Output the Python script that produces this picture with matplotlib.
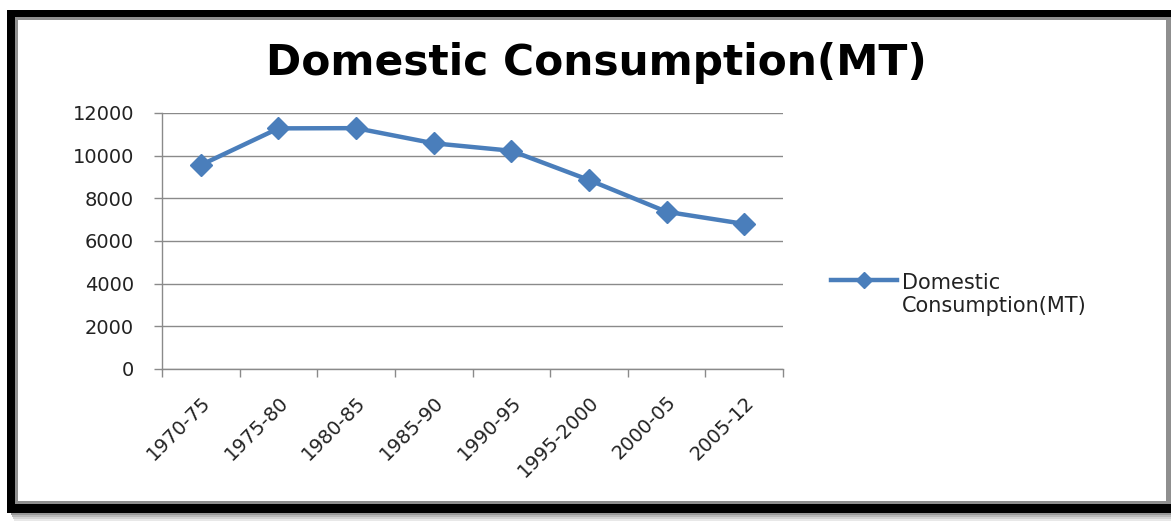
import matplotlib
matplotlib.use("Agg")
import matplotlib.pyplot as plt
from matplotlib.patches import Rectangle
import numpy as np

periods = ["1970-75", "1975-80", "1980-85", "1985-90", "1990-95",
           "1995-2000", "2000-05", "2005-12"]
consumption = [9560, 11280, 11290, 10580, 10230, 8860, 7370, 6800]
y_ticks = [0, 2000, 4000, 6000, 8000, 10000, 12000]
series_name = "Domestic\nConsumption(MT)"

W, H = 1171, 522
plt.rcParams["font.family"] = ["DejaVu Sans"]
fig = plt.figure(figsize=(W / 100, H / 100), dpi=100)
fig.patch.set_facecolor("white")


def box(x0, y0, x1, y1):
    """Pixel box (top-left origin) -> figure-fraction rectangle args."""
    return (x0 / W, 1 - y1 / H), (x1 - x0) / W, (y1 - y0) / H


# soft drop shadow under the frame
for i, (c, a) in enumerate([(0.55, 0.9), (0.65, 0.8), (0.75, 0.7), (0.85, 0.6)]):
    xy, w, h = box(11 + i, 513 + i * 2, W + 10, 515 + i * 2)
    fig.patches.append(Rectangle(xy, w, h, transform=fig.transFigure,
                                 facecolor=str(c), edgecolor="none", alpha=a, zorder=0))
# thick black frame
xy, w, h = box(7, 10, W + 10, 513)
fig.patches.append(Rectangle(xy, w, h, transform=fig.transFigure,
                             facecolor="black", edgecolor="none", zorder=1))
# grey inner rim and white chart area
xy, w, h = box(15, 17, W + 10, 504)
fig.patches.append(Rectangle(xy, w, h, transform=fig.transFigure,
                             facecolor="#8f8f8f", edgecolor="none", zorder=2))
xy, w, h = box(18, 20, 1166, 501)
fig.patches.append(Rectangle(xy, w, h, transform=fig.transFigure,
                             facecolor="white", edgecolor="none", zorder=3))

ax_left, ax_right, ax_top, ax_bottom = 162, 783, 113, 369
ax = fig.add_axes([ax_left / W, 1 - ax_bottom / H,
                   (ax_right - ax_left) / W, (ax_bottom - ax_top) / H])
ax.set_facecolor("none")
ax.set_zorder(5)

x = np.arange(len(periods))
line_color = "#4a7ebb"
ax.plot(x, consumption, color=line_color, linewidth=3.2, marker="D",
        markersize=11.5, markerfacecolor=line_color, markeredgecolor=line_color,
        label=series_name, solid_joinstyle="round", zorder=4)

label_size = 14
ax.set_xlim(-0.5, len(periods) - 0.5)
ax.set_ylim(0, 12000)
ax.set_yticks(y_ticks)
ax.set_yticklabels([str(v) for v in y_ticks], fontsize=label_size, color="#222222")
ax.yaxis.grid(True, color="#8a8a8a", linewidth=1.0)
ax.set_axisbelow(True)

# category boundaries carry the tick marks, centres carry the labels
ax.set_xticks(np.arange(len(periods) + 1) - 0.5)
ax.set_xticklabels([])
ax.set_xticks(x, minor=True)
ax.set_xticklabels(periods, minor=True, rotation=45, ha="right",
                   rotation_mode="anchor", fontsize=label_size, color="#222222")
ax.tick_params(axis="x", which="minor", length=0, pad=17)
ax.tick_params(axis="x", which="major", length=6, color="#8a8a8a", width=1)
ax.tick_params(axis="y", length=6, color="#8a8a8a", width=1, pad=14)

for s in ["top", "right"]:
    ax.spines[s].set_visible(False)
for s in ["left", "bottom"]:
    ax.spines[s].set_color("#8a8a8a")
    ax.spines[s].set_linewidth(1.0)

fig.text(596 / W, 1 - 63 / H, "Domestic Consumption(MT)", ha="center", va="center",
         fontsize=30.5, fontweight="bold", color="black", zorder=6)

leg = ax.legend(loc="upper left", bbox_to_anchor=(831 / W, 1 - 273 / H),
                bbox_transform=fig.transFigure, frameon=False, fontsize=15,
                handlelength=3.15, handletextpad=0.25, markerscale=0.75,
                labelcolor="#222222", borderpad=0, borderaxespad=0)
# keep the legend marker level with the first line of the label
try:
    for col in leg._legend_handle_box.get_children():
        for item in col.get_children():
            item.align = "top"
except AttributeError:
    pass

fig.savefig("out.png", dpi=100, facecolor="white")
